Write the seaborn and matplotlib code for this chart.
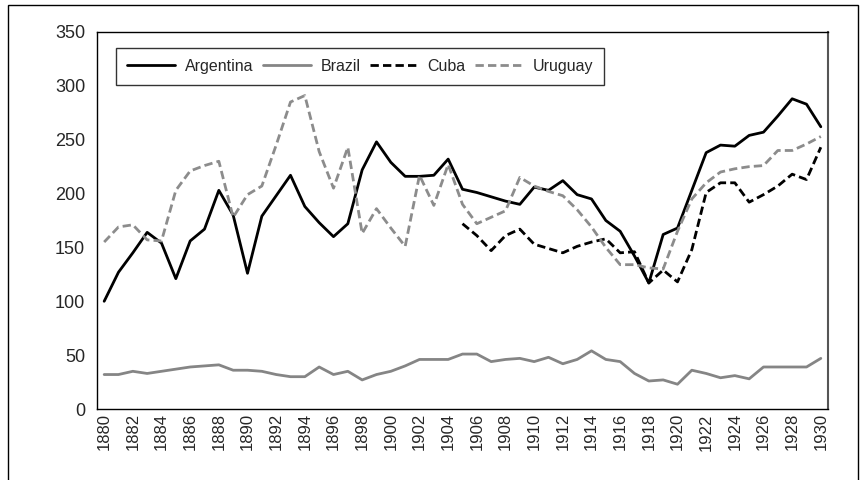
import numpy as np
import pandas as pd
import seaborn as sns
import matplotlib.pyplot as plt
from matplotlib.patches import Rectangle

years = list(range(1880, 1931))
argentina = [100, 127, 145, 164, 154, 121, 156, 167, 203, 180,
             126, 179, 198, 217, 188, 173, 160, 172, 222, 248,
             229, 216, 216, 217, 232, 204, 201, 197, 193, 190,
             206, 203, 212, 199, 195, 175, 165, 142, 117, 162,
             168, 203, 238, 245, 244, 254, 257, 272, 288, 283, 262]
brazil = [32, 32, 35, 33, 35, 37, 39, 40, 41, 36,
          36, 35, 32, 30, 30, 39, 32, 35, 27, 32,
          35, 40, 46, 46, 46, 51, 51, 44, 46, 47,
          44, 48, 42, 46, 54, 46, 44, 33, 26, 27,
          23, 36, 33, 29, 31, 28, 39, 39, 39, 39, 47]
uruguay = [155, 169, 171, 157, 156, 203, 221, 226, 230, 178,
           199, 207, 245, 285, 291, 239, 205, 243, 163, 186,
           168, 151, 217, 189, 227, 190, 172, 178, 184, 215,
           207, 202, 198, 185, 169, 150, 134, 134, 131, 130,
           165, 195, 210, 220, 223, 225, 226, 240, 240, 246, 253]
cuba_years = list(range(1905, 1931))
cuba = [172, 161, 147, 161, 167, 153, 149, 145, 151, 155,
        158, 145, 146, 117, 129, 118, 148, 201, 210, 210,
        192, 199, 207, 218, 213, 243]

countries = ['Argentina', 'Brazil', 'Cuba', 'Uruguay']
colors = {'Argentina': 'black', 'Brazil': '#858585', 'Cuba': 'black', 'Uruguay': '#8c8c8c'}
dashes = {'Argentina': '', 'Brazil': '', 'Cuba': (3, 1.5), 'Uruguay': (3, 1.5)}


def build_frame():
    parts = [
        pd.DataFrame({'year': years, 'value': argentina, 'country': 'Argentina'}),
        pd.DataFrame({'year': years, 'value': brazil, 'country': 'Brazil'}),
        pd.DataFrame({'year': cuba_years, 'value': cuba, 'country': 'Cuba'}),
        pd.DataFrame({'year': years, 'value': uruguay, 'country': 'Uruguay'}),
    ]
    return pd.concat(parts, ignore_index=True)


def main():
    df = build_frame()
    sns.set_style('white')
    plt.rcParams['font.family'] = ['Liberation Sans', 'DejaVu Sans']

    fig = plt.figure(figsize=(8.64, 4.8), dpi=100)
    ax = fig.add_axes([97 / 864, 1 - 409 / 480, 731 / 864, 377 / 480])

    sns.lineplot(data=df, x='year', y='value', hue='country', style='country',
                 hue_order=countries, style_order=countries,
                 palette=colors, dashes=dashes, linewidth=2, ax=ax)

    ax.set_xlim(1879.5, 1930.5)
    ax.set_ylim(0, 350)
    ax.set_yticks(range(0, 351, 50))
    ax.set_xticks(np.arange(1879.5, 1931, 1))
    ax.set_xticklabels([])
    ax.set_xticks(range(1880, 1931, 2), minor=True)
    ax.set_xticklabels([str(y) for y in range(1880, 1931, 2)], minor=True, rotation=90)
    ax.tick_params(axis='x', which='major', direction='out', length=5, width=1, color='black')
    ax.tick_params(axis='x', which='minor', length=0, labelsize=12, pad=3)
    ax.tick_params(axis='y', direction='out', length=5, width=1, color='black', labelsize=13)
    ax.set_xlabel('')
    ax.set_ylabel('')
    for side in ['left', 'bottom', 'top']:
        ax.spines[side].set_color('black')
        ax.spines[side].set_linewidth(1)
    ax.spines['right'].set_color('#555555')
    ax.spines['right'].set_linewidth(1.5)

    handles, labels = ax.get_legend_handles_labels()
    leg = ax.legend(handles, labels, ncol=4, loc='upper left',
                    bbox_to_anchor=(0.026, 0.958), fontsize=11.5,
                    frameon=True, fancybox=False, edgecolor='black',
                    handlelength=3.0, handletextpad=0.6, columnspacing=0.6,
                    borderpad=0.7, borderaxespad=0)
    leg.get_frame().set_linewidth(1)

    fig.patches.append(Rectangle((8 / 864, -0.01), 850 / 864, 1.0 - 5 / 480 + 0.01,
                                 transform=fig.transFigure, fill=False,
                                 edgecolor='black', linewidth=1))
    fig.savefig('out.png', dpi=100)


if __name__ == '__main__':
    main()
